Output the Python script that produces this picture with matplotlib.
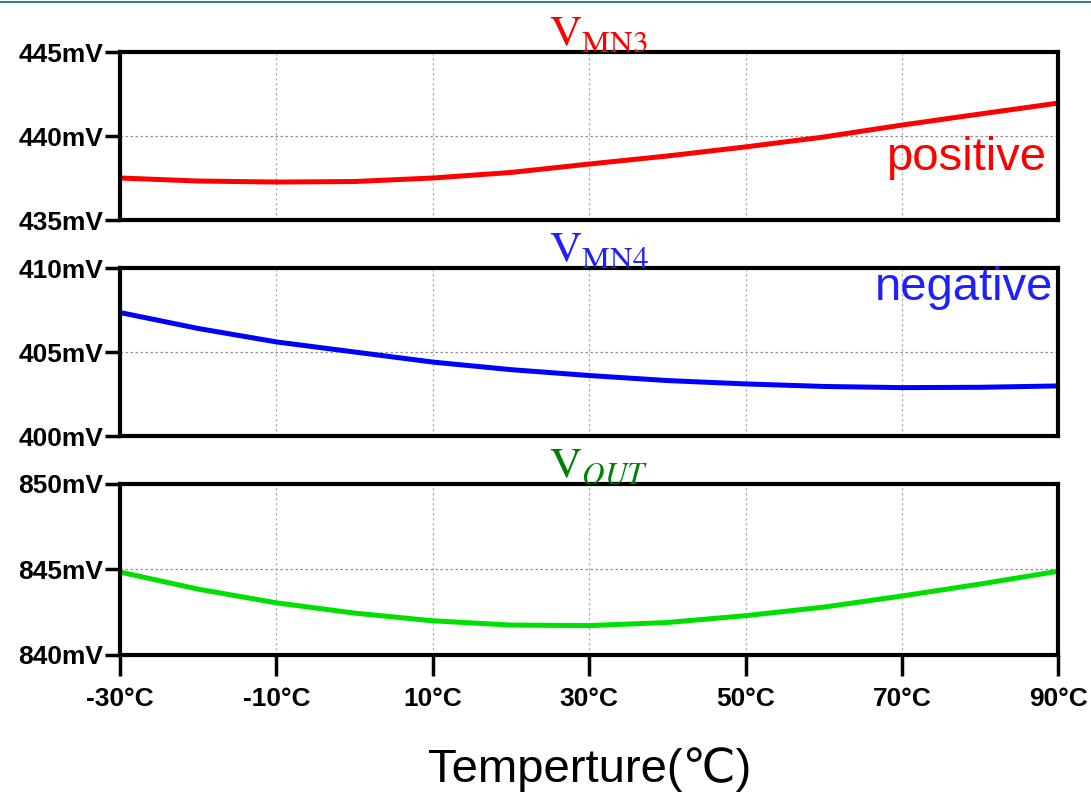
import numpy as np
import matplotlib
matplotlib.use('Agg')
import matplotlib.pyplot as plt
from matplotlib.lines import Line2D

# temperature sweep (degC) and node voltages (mV)
temps = [-30, -20, -10, 0, 10, 20, 30, 40, 50, 60, 70, 80, 90]
v_mn3 = [437.50, 437.32, 437.26, 437.29, 437.50, 437.83, 438.33, 438.81, 439.35, 439.94, 440.65, 441.31, 441.96]
v_mn4 = [407.35, 406.40, 405.60, 405.00, 404.40, 403.95, 403.60, 403.30, 403.10, 402.95, 402.88, 402.90, 402.98]
v_out = [844.85, 843.85, 843.05, 842.45, 842.00, 841.75, 841.72, 841.90, 842.30, 842.80, 843.45, 844.15, 844.90]

x_ticks = [-30, -10, 10, 30, 50, 70, 90]
panels = [
    (v_mn3, (435, 445), [435, 440, 445], '#ff0000', '#ff0000', r'$\mathrm{V}_{\mathrm{MN3}}$'),
    (v_mn4, (400, 410), [400, 405, 410], '#0000ff', '#2020ff', r'$\mathrm{V}_{\mathrm{MN4}}$'),
    (v_out, (840, 850), [840, 845, 850], '#00e000', '#008000', r'$\mathrm{V}_{OUT}$'),
]

plt.rcParams['mathtext.fontset'] = 'stix'
TICK_FONT = ['Liberation Sans', 'DejaVu Sans']
TEXT_FONT = ['Liberation Sans', 'DejaVu Sans']

fig = plt.figure(figsize=(10.91, 8), dpi=100)
# thin slide rule along the top
fig.add_artist(Line2D([0, 1], [0.998, 0.998], color='#41719c', lw=1.5))

positions = [
    [0.110, 0.725, 0.860, 0.210],
    [0.110, 0.455, 0.860, 0.210],
    [0.110, 0.18125, 0.860, 0.21375],
]

axes = []
for pos, (vals, ylim, yt, lc, tc, title) in zip(positions, panels):
    ax = fig.add_axes(pos)
    ax.plot(temps, vals, color=lc, lw=3.6, solid_capstyle='butt')
    ax.set_xlim(-30, 90)
    ax.set_ylim(*ylim)
    ax.set_yticks(yt)
    ax.set_yticklabels(['%dmV' % v for v in yt], fontfamily=TICK_FONT,
                       fontweight='bold', fontsize=19)
    ax.set_xticks(x_ticks)
    ax.xaxis.grid(True, color='#b0b0b0', linestyle=(0, (2, 2)), lw=0.9)
    ax.axhline(yt[1], color='#909090', linestyle=(0, (2, 2)), lw=0.9, zorder=0)
    for s in ax.spines.values():
        s.set_linewidth(3)
    ax.tick_params(axis='y', direction='out', length=11, width=2.5, pad=1)
    ax.text(0.51, 0.98, title, transform=ax.transAxes, ha='center', va='bottom',
            color=tc, fontsize=32)
    axes.append(ax)

for ax in axes[:2]:
    ax.tick_params(axis='x', length=0, labelbottom=False)

bot = axes[2]
bot.set_xticklabels(['%d°C' % t for t in x_ticks], fontfamily=TICK_FONT,
                    fontweight='bold', fontsize=19)
bot.tick_params(axis='x', direction='out', length=15, width=2.5, pad=8)
bot.set_xlabel('Temperture(℃)', fontfamily=TEXT_FONT, fontsize=34, labelpad=26)

axes[0].text(0.987, 0.37, 'positive', transform=axes[0].transAxes, ha='right',
             va='center', color='#ff0000', fontsize=34, fontfamily=TEXT_FONT)
axes[1].text(0.995, 0.88, 'negative', transform=axes[1].transAxes, ha='right',
             va='center', color='#2020ff', fontsize=34, fontfamily=TEXT_FONT)

fig.savefig('out.png', dpi=100, facecolor='white')
